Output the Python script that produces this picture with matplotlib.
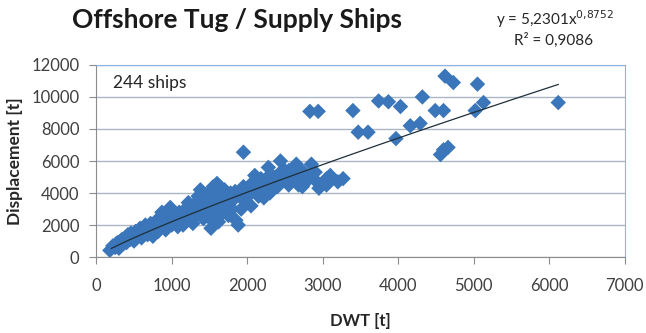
import numpy as np
import matplotlib
matplotlib.use("Agg")
import matplotlib.pyplot as plt

plt.rcParams['font.family'] = ['Lato', 'DejaVu Sans']

# ships: deadweight [t] and displacement [t]
dwt = [180, 220, 250, 280, 300, 320, 350, 380, 400, 420, 450, 470, 500, 520, 550, 580,
       600, 620, 650, 680, 700, 720, 750, 780, 800, 820, 850, 870, 900, 920, 950, 980,
       1000, 1020, 1050, 1080, 1100, 1120, 1150, 1180, 1200, 1220, 1250, 1280, 1300, 1320,
       1350, 1380, 1400, 1420, 1450, 1480, 1500, 1520, 1550, 1560, 1580, 1600, 1620, 1650,
       1680, 1700, 1720, 1750, 1780, 1800, 1820, 1850, 1880, 1900, 1920, 1950, 1980, 2000,
       2050, 2080, 2100, 2150, 2200, 2220, 2250, 2280, 2300, 2350, 2400, 2440, 2480, 2500,
       2550, 2600, 2650, 2680, 2700, 2730, 2800, 2850, 2900, 2950, 3000, 3050, 3100, 3200,
       3270, 2830, 2940, 3400, 3470, 3600, 3740, 3870, 4030, 4320, 4160, 4290, 3970, 4490,
       4600, 4620, 4730, 5050, 5020, 5130, 4560, 4600, 4660, 6120,
       260, 340, 460, 560, 640, 740, 860, 960, 1060, 1160, 1260, 1360, 1460, 1540, 1640,
       1740, 1840, 1960, 2060, 2160, 2320, 2420, 2560, 1240, 1440, 1340, 1700, 2180,
       1000, 1100, 1200, 1300, 1400, 1500, 1600, 1700, 1800, 1900, 2000, 2100, 2200, 2300,
       2400, 2500, 2600, 2700, 1150, 1250, 1350, 1450, 1550, 1650, 1750, 1850, 1950, 2050,
       2150, 2250, 2350, 2450, 2550, 2650, 2750, 2900, 3050, 2620, 2780, 1430, 1530, 1630]
disp = [420, 700, 600, 900, 550, 1000, 800, 1200, 900, 1400, 1100, 1300, 1000, 1600, 1300, 1800,
        1200, 1500, 2000, 1400, 1700, 2100, 1300, 1800, 2300, 1600, 2000, 2800, 2200, 1700, 2500, 3100,
        2000, 2600, 2300, 1900, 2800, 2200, 2000, 3000, 2500, 3400, 2800, 2100, 3200, 2600,
        3800, 4200, 3000, 2400, 3600, 2800, 4000, 1800, 4400, 2500, 3300, 4600, 2200, 3800,
        2800, 4200, 3400, 2600, 4000, 3000, 3600, 2300, 2000, 3800, 3000, 6550, 3500, 4200,
        3200, 4700, 5100, 3800, 4200, 3700, 4600, 5600, 4000, 5000, 4400, 6000, 4800, 5400,
        4500, 5000, 5800, 4500, 5400, 4400, 5000, 5800, 5300, 4300, 4600, 4500, 5100, 4700,
        4900, 9100, 9100, 9150, 7800, 7800, 9750, 9700, 9400, 10000, 8200, 8350, 7400, 9150,
        9150, 11300, 10900, 10800, 9150, 9650, 6400, 6700, 6850, 9650,
        800, 1100, 1500, 1600, 1700, 1900, 2400, 2300, 2700, 2600, 3000, 3300, 3200, 3500, 3700,
        3600, 4100, 4000, 4400, 4300, 4800, 5200, 5200, 3100, 3600, 3500, 3900, 4900,
        2400, 2500, 2700, 2900, 3300, 3400, 3700, 3600, 3800, 4100, 3900, 4300, 4500, 4700,
        4900, 5000, 5300, 5100, 2700, 2900, 3200, 3900, 3600, 4100, 3300, 3900, 4400, 4000,
        4300, 4900, 4600, 5200, 5400, 5100, 5300, 4800, 4900, 5500, 4700, 2900, 2300, 3000]

# power trend line from the chart: y = a * x^b
fit_a = 5.2301
fit_b = 0.8752
fit_x = [200, 6120]

fig = plt.figure(figsize=(6.46, 3.33), dpi=100)
ax = fig.add_axes([0.149, 0.228, 0.818, 0.577])

blue = '#3A76B9'
ax.scatter(dwt, disp, marker='D', s=62, color=blue, edgecolors='none', zorder=3)

xs = np.linspace(fit_x[0], fit_x[1], 200)
ax.plot(xs, fit_a * xs ** fit_b, color='#1f2f3a', lw=0.9, zorder=4)

ax.set_xlim(0, 7000)
ax.set_ylim(0, 12000)
ax.set_xticks(range(0, 7001, 1000))
ax.set_yticks(range(0, 12001, 2000))
ax.grid(axis='y', color='#A9B6C4', lw=1.0, zorder=0)
ax.set_axisbelow(True)

for side in ['top', 'right']:
    ax.spines[side].set_color('#8DB3E2')
for side in ['left', 'bottom']:
    ax.spines[side].set_color('#8C8C8C')
ax.tick_params(axis='both', direction='out', length=5, color='#8C8C8C',
               labelsize=12, labelcolor='#404040')
ax.tick_params(axis='x', pad=10)
ax.tick_params(axis='y', pad=7)

ax.set_xlabel('DWT [t]', fontsize=12, fontweight='bold', color='#262626', labelpad=14)
ax.set_ylabel('Displacement [t]', fontsize=12.5, fontweight='bold', color='#262626', labelpad=6)

ax.text(0.032, 0.88, '244 ships', transform=ax.transAxes, fontsize=12.5, color='#262626',
        va='baseline', ha='left')

fig.text(0.111, 0.916, 'Offshore Tug / Supply Ships', fontsize=19, fontweight='bold',
         color='#1a1a1a', va='baseline', ha='left')
fig.text(0.859, 0.925, 'y = 5,2301x$^{0{,}8752}$', fontsize=11, color='#262626',
         va='baseline', ha='center')
fig.text(0.857, 0.866, 'R² = 0,9086', fontsize=11, color='#262626',
         va='baseline', ha='center')

fig.savefig('out.png', dpi=100)
